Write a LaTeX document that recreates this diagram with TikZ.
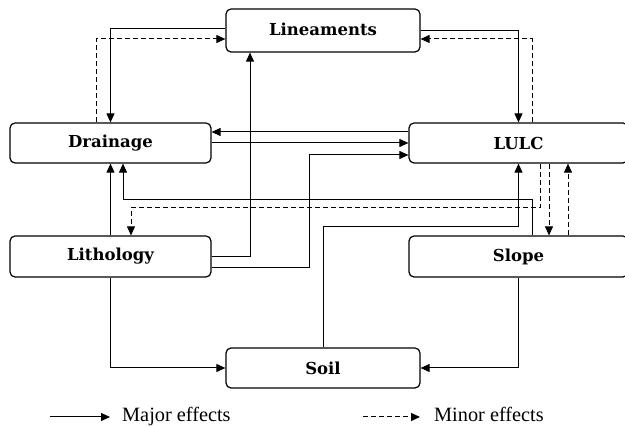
\documentclass[tikz,border=0pt]{standalone}
\usepackage{fontspec}
\newfontfamily\boxfont{DejaVu Serif}
\newfontfamily\legendfont{Liberation Serif}
\usetikzlibrary{arrows.meta,calc}

\tikzset{
  factor/.style={draw, line width=1.2pt, rounded corners=5pt, fill=white,
    font=\boxfont\bfseries\fontsize{16.5}{18}\selectfont, inner sep=0pt},
  major/.style={line width=1pt, -{Triangle[length=9pt,width=8pt]}},
  minor/.style={major, dash pattern=on 5pt off 3pt},
  legendtext/.style={anchor=base west, font=\legendfont\fontsize{20.3}{22}\selectfont, inner sep=0pt}
}

\begin{document}
\begin{tikzpicture}[x=1pt,y=-1pt]
  \clip (0,0) rectangle (625,427);
  \fill[white] (0,0) rectangle (625,427);

  % factor boxes
  \node[factor, minimum width=194pt, minimum height=43pt] (lin)   at (323,30.5)   {\raisebox{2pt}{Lineaments}};
  \node[factor, minimum width=201pt, minimum height=40pt] (dra)   at (110.5,143)  {Drainage};
  \node[factor, minimum width=219pt, minimum height=40pt] (lulc)  at (518.5,143)  {LULC};
  \node[factor, minimum width=201pt, minimum height=41pt] (lith)  at (110.5,256.5){Lithology};
  \node[factor, minimum width=219pt, minimum height=41pt] (slope) at (518.5,256.5){Slope};
  \node[factor, minimum width=194pt, minimum height=40pt] (soil)  at (323,368)    {Soil};

  % Lineaments <-> Drainage
  \draw[major] ($(lin.west)+(0,-1.5)$) -| (dra.north);
  \draw[minor] ($(dra.north)+(-14.5,0)$) |- ($(lin.west)+(0,8.5)$);

  % Lineaments <-> LULC
  \draw[major] ($(lin.east)+(0,0.5)$) -| (lulc.north);
  \draw[minor] ($(lulc.north)+(13.5,0)$) |- ($(lin.east)+(0,8.5)$);

  % Drainage <-> LULC
  \draw[major] ($(lulc.west)+(0,-11)$) -- ($(dra.east)+(0,-11)$);
  \draw[major] (dra.east) -- (lulc.west);

  % Lithology effects
  \draw[major] ($(lith.east)+(0,11.5)$) -| ($(lulc.west)+(-99,12)$) -- ($(lulc.west)+(0,12)$);
  \draw[major] ($(lith.east)+(0,0.5)$) -| ($(lin.south)+(-73,0)$);
  \draw[major] (lith.north) -- (dra.south);
  \draw[major] (lith.south) |- (soil.west);

  % Slope effects
  \draw[major] ($(slope.north)+(13.5,0)$) |- ($(dra.south)+(12.5,35.5)$) -- ($(dra.south)+(12.5,0)$);
  \draw[major] (slope.south) |- (soil.east);

  % LULC -> Lithology
  \draw[minor] ($(lulc.south)+(21.5,0)$) |- ($(lith.north)+(20.5,-28)$) -- ($(lith.north)+(20.5,0)$);

  % Soil -> LULC
  \draw[major] (soil.north) |- ($(lulc.south)+(0,62.5)$) -- (lulc.south);

  % LULC <-> Slope
  \draw[minor] ($(lulc.south)+(30.5,0)$) -- ($(slope.north)+(30.5,0)$);
  \draw[minor] ($(slope.north)+(49.5,0)$) -- ($(lulc.south)+(49.5,0)$);

  % legend
  \coordinate (ma) at (50,417);
  \coordinate (mb) at (110,417);
  \coordinate (na) at (363,417);
  \coordinate (nb) at (420,417);
  \draw[major] (ma) -- (mb);
  \draw[minor] (na) -- (nb);
  \node[legendtext] (majtext) at (122,422) {Major effects};
  \node[legendtext] (mintext) at (434,422) {Minor effects};
\end{tikzpicture}
\end{document}
